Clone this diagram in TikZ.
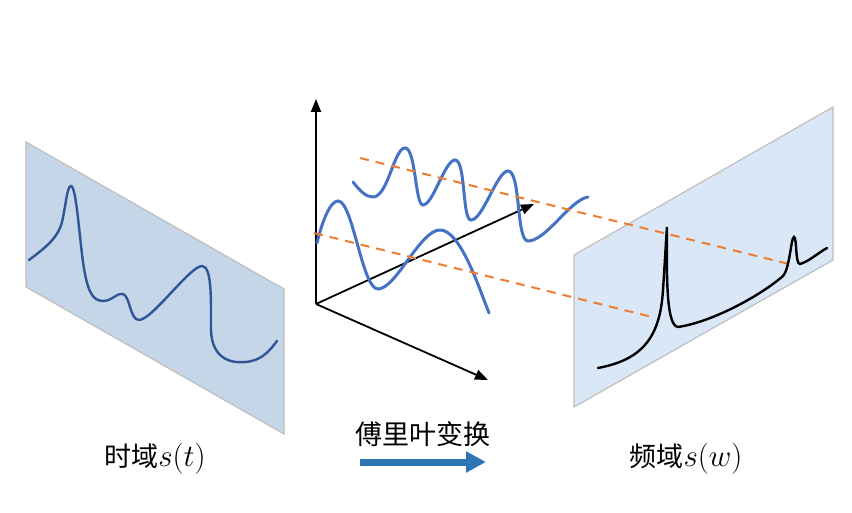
\documentclass[tikz,border=0pt]{standalone}
\usepackage{fontspec}
\usepackage{graphicx}
\newfontfamily\cjk{Noto Sans CJK SC}
\usetikzlibrary{arrows.meta}
\definecolor{panelA}{HTML}{C6D6E9}
\definecolor{panelB}{HTML}{DAE7F6}
\definecolor{panelEdge}{HTML}{BFBFBF}
\definecolor{darkblue}{HTML}{2F5597}
\definecolor{midblue}{HTML}{4472C4}
\definecolor{arrowblue}{HTML}{2E75B6}
\definecolor{orng}{HTML}{ED7D31}
\newcommand{\bigmath}[1]{\scalebox{1.25}{$#1$}}
\tikzset{
  panel/.style={draw=panelEdge, line width=1.2pt},
  axis/.style={draw=black, line width=1.8pt, -{Triangle[length=13pt,width=10pt]}},
  wave/.style={draw=midblue, line width=3pt, line cap=round},
  timewave/.style={draw=darkblue, line width=2.4pt, line cap=round},
  specwave/.style={draw=black, line width=2.4pt, line cap=round},
  guide/.style={draw=orng, line width=2pt, dash pattern=on 9pt off 7pt},
  label/.style={font=\cjk\fontsize{27pt}{30pt}\selectfont, inner sep=0pt},
}
\begin{document}
\begin{tikzpicture}[x=1pt,y=-1pt]
\useasboundingbox (0,0) rectangle (852,513);
% left panel
\path[panel, fill=panelA] (26,142) -- (284,289) -- (284,434) -- (26,287) -- cycle;
\draw[timewave] (29,260) .. controls (45,248) and (58,238) .. (62,222) .. controls (66,205) and (67,186) .. (71,186) .. controls (76,186) and (79,232) .. (83,262) .. controls (87,290) and (92,301) .. (103,301) .. controls (112,301) and (118,292) .. (123,294) .. controls (130,296) and (130,320) .. (139,320) .. controls (152,320) and (190,266) .. (202,266) .. controls (212,266) and (211,300) .. (211,330) .. controls (212,362) and (235,363) .. (245,362) .. controls (262,361) and (270,350) .. (277,341);
% axes
\coordinate (O) at (316,304);
\coordinate (Yt) at (316,99);
\coordinate (Zt) at (534,204);
\coordinate (Xt) at (488,380);
\draw[axis] (O) -- (Yt);
\draw[axis] (O) -- (Zt);
\draw[axis] (O) -- (Xt);
% right panel
\path[panel, fill=panelB] (574,255) -- (833,107) -- (833,260) -- (574,407) -- cycle;
% waves
\draw[wave] (317,243) .. controls (322,222) and (330,201) .. (338,201) .. controls (353,201) and (362,289) .. (378,289) .. controls (396,289) and (420,230) .. (440,230) .. controls (460,230) and (478,285) .. (489,313);
\draw[wave] (353,182) .. controls (360,191) and (366,197) .. (373,197) .. controls (388,197) and (394,148) .. (405,148) .. controls (416,148) and (415,205) .. (423,205) .. controls (433,205) and (445,160) .. (455,160) .. controls (466,160) and (462,220) .. (471,220) .. controls (483,220) and (497,171) .. (508,171) .. controls (521,171) and (516,241) .. (528,241) .. controls (546,241) and (570,200) .. (588,197);
% dashed guides
\coordinate (g1a) at (360,158);
\coordinate (g1b) at (793,265);
\coordinate (g2a) at (314,233);
\coordinate (g2b) at (652,317);
\draw[guide] (g1a) -- (g1b);
\draw[guide] (g2a) -- (g2b);
% spectrum
\draw[specwave] (598,368) .. controls (640,360) and (660,340) .. (663,290) .. controls (665,260) and (666,240) .. (667,227) .. controls (667,265) and (665,326) .. (678,327) .. controls (712,322) and (760,296) .. (783,276) .. controls (790,268) and (791,237) .. (794,237) .. controls (797,237) and (795,264) .. (800,264) .. controls (808,262) and (818,253) .. (827,248);
% labels
\node[label, anchor=base] (lt) at (155,466) {时域\bigmath{s(t)}};
\node[label, anchor=base] (lf) at (686,466) {频域\bigmath{s(w)}};
\node[label, anchor=base] (lm) at (423,444) {傅里叶变换};
\coordinate (ta) at (360,462);
\coordinate (tb) at (486,462);
\draw[draw=arrowblue, line width=7pt, -{Triangle[length=20pt,width=20pt]}] (ta) -- (tb);
\end{tikzpicture}
\end{document}
